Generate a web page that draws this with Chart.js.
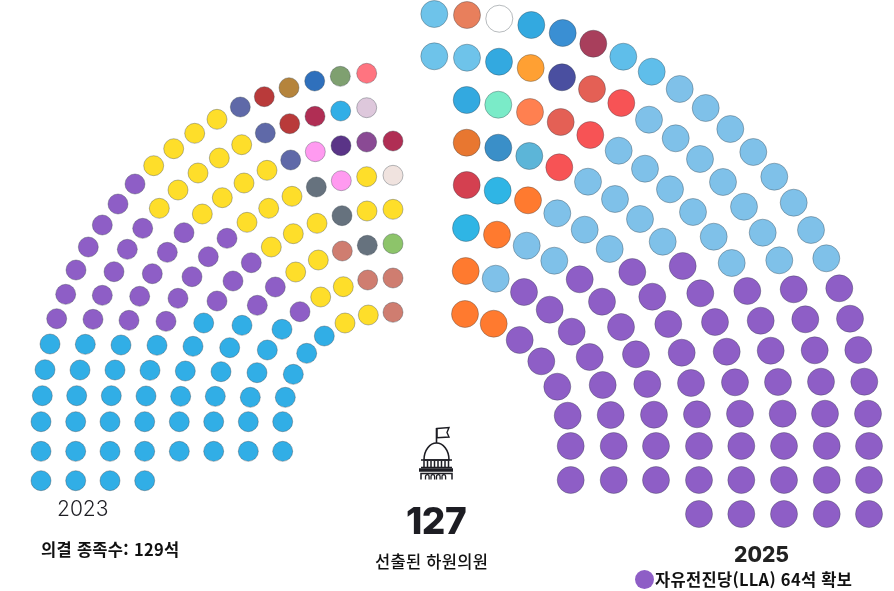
<!DOCTYPE html>
<html lang="ko">
<head>
    <meta charset="UTF-8">
    <title>2023 / 2025 하원 의석</title>
    <script src="https://cdn.jsdelivr.net/npm/chart.js"></script>
    <style>
        html, body { margin: 0; padding: 0; background: #fff; overflow: hidden; }
        #wrap { position: relative; width: 894px; height: 591px; }
        canvas { position: absolute; left: 0; top: 0; }
        .txt { position: absolute; white-space: nowrap; line-height: 1; color: #1d1d23; transform: translateY(-50%); }
        .kr { font-family: "Noto Sans CJK KR", sans-serif; color: #111; font-size: 16.5px; letter-spacing: 0.3px; font-weight: 700; }
        .num { font-family: Inter, sans-serif; }
        #dot { position: absolute; left: 635px; top: 570px; width: 19px; height: 19px; border-radius: 50%; background: #8e5ec6; }
        #capitol { position: absolute; left: 410px; top: 420px; }
    </style>
</head>
<body>
<div id="wrap">
    <canvas id="seats" width="894" height="591"></canvas>
    <svg id="capitol" width="54" height="64" viewBox="410 420 54 64" fill="none" stroke="#1d1d23" stroke-width="1.6">
        <path d="M436.5 443V428"/>
        <path d="M437 428.5l12-1-2 5 2 4.500-12 0.800z" stroke-width="1.400"/>
        <path d="M424 460c0-10 6-17 12.500-17s12.500 7 12.500 17z"/>
        <path d="M421 460h31M421 467.500h31"/>
        <path d="M424 461v6M427.500 461v6M431 461v6M434.500 461v6M438 461v6M441.500 461v6M445 461v6M448.500 461v6" stroke-width="1.500"/>
        <path d="M419 470h34" stroke-width="3.400"/>
        <path d="M421 479.500v-6h31v6" stroke-width="1.500"/>
        <path d="M425.500 479.500v-3a1.800 1.800 0 0 1 3.600 0v3M431 479.500v-3a1.800 1.800 0 0 1 3.600 0v3M436.500 479.500v-3a1.800 1.800 0 0 1 3.600 0v3M442 479.500v-3a1.800 1.800 0 0 1 3.600 0v3" stroke-width="1.300"/>
    </svg>
    <div class="txt num" style="left:57px;top:508px;font-size:21px;font-weight:300;">2023</div>
    <div class="txt kr" style="left:41px;top:549px;">의결 종족수: 129석</div>
    <div class="txt num" style="left:406px;top:520px;font-size:37px;font-weight:800;letter-spacing:-0.500px;">127</div>
    <div class="txt kr" style="left:375px;top:561px;font-weight:500;">선출된 하원의원</div>
    <div class="txt num" style="left:734px;top:554px;font-size:21px;font-weight:800;color:#222;">2025</div>
    <span id="dot"></span>
    <div class="txt kr" style="left:655px;top:579px;">자유전진당(LLA) 64석 확보</div>
</div>

<script>
    // seat positions, row by row from the outer ring in
    var seatX2023 = [
        366.7,340.3,314.7,289,264.3,240.3,217,194.7,173.7,153.7,135,118,102.3,88.3,76,65.7,56.7,50,45,42.3,41,41,41,
        366.7,340.7,315,289.7,265.3,241.7,219.3,198,178,159.3,142.7,127.3,114,102.3,93,85.3,80,76.7,75.7,75.7,75.7,
        393,366.7,341,315.3,290.7,267,244,222.3,202.3,184,167.3,152.3,139.7,129,121,115,111.3,110,110,110,
        393,366.7,341.3,316.3,292,268.7,247,227,208.3,192,178,166,157,150,146,144.7,144.7,144.7,
        393,367,342,317,293.3,271.3,251.3,233,217,203.7,193,185.3,180.7,179.3,179.3,
        393,367.3,342.3,318.3,295.7,275.3,257.3,242,229.7,221,215.3,213.7,213.7,
        393,367.7,343.3,320.7,300,282,267.3,257,250.3,248.3,248.3,
        393,368.3,345,324.3,306.7,293.3,285.3,282.7,282.7
    ];
    var seatY2023 = [
        73.3,76.3,81,87.7,96.7,107,119.3,133.3,148.7,165.7,184,204,225,247,270,294.3,318.7,344,369.7,395.7,421.7,451.3,480.7,
        107.7,111,116.3,123.7,133,144.7,158,173,190,208.3,228.3,249.3,271.7,295.3,319.3,344.3,370,395.7,421.7,451.3,480.7,
        141,142,145.7,151.7,160,170.3,183,197.7,214,232.7,252.3,273.7,296.3,320.3,345,370,395.7,421.7,451.3,480.7,
        175.3,176.7,180.7,187,196.3,208.3,222.3,238.3,256.7,276.7,298.3,321.3,345.3,370.3,396,421.7,451.3,480.7,
        209.3,211,215.7,223.3,233.7,247,262.7,281,301,323,346.3,371,396.3,421.7,451.3,
        243.7,245.3,251,260,272,287,305.3,325.3,347.7,371.7,396.3,421.7,451.3,
        278,280,286.7,297,311.7,329.3,350,372.7,397.3,421.7,451.3,
        312.3,315,323,336,353.3,374.3,397.3,421.7,451.3
    ];
    var seatBloc2023 = [
        'rose','sage','royal','bronze','brick','slate','Y','Y','Y','Y','P','P','P','P','P','P','P','B','B','B','B','B','B',
        'pale','B','crimson','brick','slate','Y','Y','Y','Y','Y','P','P','P','P','P','B','B','B','B','B','B',
        'crimson','plum','indigo','pink','slate','Y','Y','Y','Y','P','P','P','P','P','B','B','B','B','B','B',
        'shell','Y','pink','steel','Y','Y','Y','P','P','P','P','P','B','B','B','B','B','B',
        'Y','Y','steel','Y','Y','Y','P','P','P','B','B','B','B','B','B',
        'lime','steel','clay','Y','Y','P','P','B','B','B','B','B','B',
        'clay','clay','Y','Y','P','B','B','B','B','B','B',
        'clay','Y','Y','B','B','B','B','B','B'
    ];

    var seatX2025 = [
        434.3,467,499.3,531.3,562.7,593.3,623.3,651.7,679.7,705.7,730.3,753.3,774.3,793.7,811,826.3,839.3,850,858.3,864.3,868,869,869,869,
        434.3,467,499,530.7,562,592,621.3,649,675.7,700,723,744,762.7,779.3,793.7,805.3,814.7,821,825,826.7,826.7,826.7,
        466.7,498.3,530,560.7,590.3,618.7,645,670,693,713.7,731.7,747.3,760.7,770.7,778,782.7,784,784,784,
        466.7,498.3,529.3,559.3,588,615,640,662.7,682.7,700.3,715,726.7,735,740,741.3,741.3,741.3,
        466.7,497.7,528,557.3,584.7,609.7,632.3,652.3,668.3,681.7,691,697,699,699,699,
        466,497,526.7,554.3,579.7,602,621,636,647.3,654,656,656,
        465.7,495.7,524,549.7,571.7,589.7,602.7,610.7,613.7,613.7,
        465,493.7,519.7,541.3,557.3,567.7,570.7,570.7
    ];
    var seatY2025 = [
        14,15,18.7,25,33,43.7,56.7,71.7,89,108,129,152,176.7,202.7,230,258.3,288.3,318.7,350,381.7,413.7,446,480,514,
        56.3,57.7,61.7,68,77.3,89,103,119.7,138.3,159,182,206.7,232.7,260.3,289.3,319.3,350.3,381.7,413.7,446,480,514,
        100,104.7,112,122,135,150.7,168.7,189.3,212,236.7,263,291,320.7,350.7,382,413.7,446,480,514,
        142.7,147.7,156,167.3,181.7,199,219,241.7,266,293.3,322,351.7,382.3,413.7,446,480,514,
        185,190.7,200.3,213.3,229.7,249,272,296.7,324,352.7,383,414.3,446,480,514,
        228,234.7,245.7,260.7,279.3,301.7,327,354.3,384,414.7,446,480,
        271,278.7,292,309.7,331.7,357,385,415,446,480,
        314,323.7,340,361.3,386.7,415.7,446,480
    ];
    var seatBloc2025 = [
        'L','coral','white','A','azure','maroon','sky','sky','C','C','C','C','C','C','C','C','P','P','P','P','P','P','P','P',
        'L','L','A','amber','navy','salmon','red','C','C','C','C','C','C','C','P','P','P','P','P','P','P','P',
        'A','mint','peach','salmon','red','C','C','C','C','C','C','P','P','P','P','P','P','P','P',
        'rust','ocean','teal','red','C','C','C','C','P','P','P','P','P','P','P','P','P',
        'cherry','cyan','tangerine','C','C','C','P','P','P','P','P','P','P','P','P',
        'cyan','tangerine','C','C','P','P','P','P','P','P','P','P',
        'tangerine','C','P','P','P','P','P','P','P','P',
        'tangerine','tangerine','P','P','P','P','P','P'
    ];

    var blocColors = {
        P: '#8e5ec6', B: '#31aee6', Y: '#fede2a', C: '#7fc1e9', L: '#6ec3ea', A: '#33a9e0',
        rose: '#ff7480', sage: '#7fa070', royal: '#2f70bc', bronze: '#b5843c', brick: '#b93a3a',
        slate: '#5f69a8', pale: '#dec8dc', crimson: '#b02e54', plum: '#8a4a94', indigo: '#5a3487',
        pink: '#ff9af0', shell: '#f0e3df', steel: '#66727e', lime: '#8dc46a', clay: '#cf7d70',
        coral: '#e87f5c', white: '#ffffff', azure: '#3a8fd3', maroon: '#a83f5c', sky: '#5fbeea',
        amber: '#ffa033', navy: '#4a4fa0', salmon: '#e46055', red: '#f75355', mint: '#7aebc8',
        peach: '#ff8050', rust: '#e87730', ocean: '#3a8fc8', teal: '#5cb5d8', cherry: '#d44050',
        cyan: '#2fb5e5', tangerine: '#ff7a2f'
    };

    function toPoints(xs, ys) {
        return xs.map(function(x, i) { return { x: x, y: ys[i] }; });
    }

    function seatDataset(xs, ys, blocs, radius) {
        return {
            data: toPoints(xs, ys),
            pointRadius: radius,
            pointHoverRadius: radius,
            pointBorderWidth: 1,
            pointBorderColor: 'rgba(50,60,70,0.35)',
            pointBackgroundColor: blocs.map(function(b) { return blocColors[b]; }),
            showLine: false,
            clip: false
        };
    }

    new Chart(document.getElementById('seats').getContext('2d'), {
        type: 'scatter',
        data: {
            datasets: [
                seatDataset(seatX2023, seatY2023, seatBloc2023, 10),
                seatDataset(seatX2025, seatY2025, seatBloc2025, 13.5)
            ]
        },
        options: {
            responsive: false,
            animation: false,
            layout: { padding: 0, autoPadding: false },
            plugins: { legend: { display: false }, tooltip: { enabled: false } },
            scales: {
                x: { type: 'linear', min: 0, max: 894, display: false },
                y: { type: 'linear', min: 0, max: 591, reverse: true, display: false }
            }
        }
    });
</script>
</body>
</html>
